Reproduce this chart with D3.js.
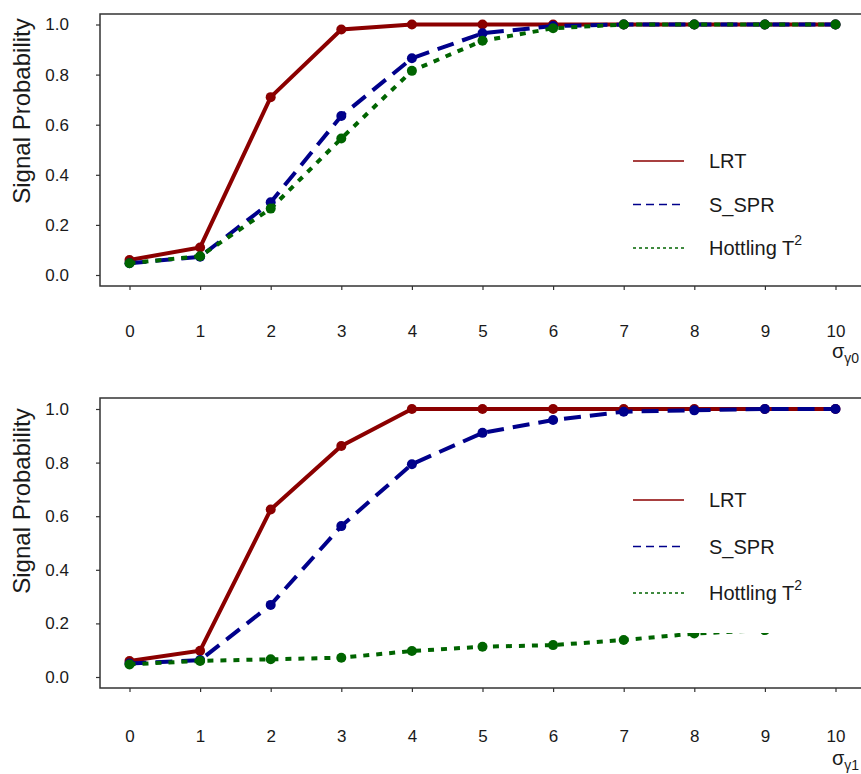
<!DOCTYPE html>
<html>
<head>
<meta charset="utf-8">
<script src="https://cdn.jsdelivr.net/npm/d3@7"></script>
<style>
    body { margin: 0; background: #fff; }
    svg { display: block; font-family: "Liberation Sans", Arial, sans-serif; }
    .tick-label { fill: #1a1a1a; font-size: 17px; }
    .legend-text { fill: #1a1a1a; font-size: 20px; }
</style>
</head>
<body>
<svg id="vis" width="861" height="774"></svg>
<script>
// sigma values on the x axis
const sigmaList = [0, 1, 2, 3, 4, 5, 6, 7, 8, 9, 10];
const yTicks = [0.0, 0.2, 0.4, 0.6, 0.8, 1.0];

// top panel (sigma gamma0)
const lrtTop   = [0.06, 0.11, 0.71, 0.98, 1.0, 1.0, 1.0, 1.0, 1.0, 1.0, 1.0];
const ssprTop  = [0.047, 0.073, 0.29, 0.635, 0.865, 0.965, 0.994, 1.0, 1.0, 1.0, 1.0];
const hotTop   = [0.047, 0.075, 0.265, 0.545, 0.815, 0.935, 0.985, 1.0, 1.0, 1.0, 1.0];

// bottom panel (sigma gamma1)
const lrtBottom  = [0.06, 0.098, 0.625, 0.862, 1.0, 1.0, 1.0, 1.0, 1.0, 1.0, 1.0];
const ssprBottom = [0.05, 0.063, 0.269, 0.563, 0.794, 0.911, 0.959, 0.99, 0.995, 1.0, 1.0];
const hotBottom  = [0.047, 0.06, 0.066, 0.072, 0.097, 0.113, 0.119, 0.138, 0.162, 0.175, 0.185];

const seriesNames = ["LRT", "S_SPR", "Hottling T"];
const seriesColors = ["#8b0000", "#00008b", "#006400"];
const seriesDash = [null, "17,9", "6,7"];
const legendDash = [null, "8,5", "3,3"];

var svg = d3.select("svg#vis");

function translate(x, y) {
    return "translate(" + String(x) + "," + String(y) + ")";
}

var x = d3.scaleLinear().domain([0, 10]).range([129.5, 835.5]);

function drawPanel(p) {
    let y = d3.scaleLinear().domain([0, 1]).range([p.y0, p.y1]);
    let g = svg.append("g");

    // plot box (right edge falls outside the picture)
    g.append("rect")
        .attr("x", 100)
        .attr("y", p.boxTop)
        .attr("width", 772)
        .attr("height", p.boxBottom - p.boxTop)
        .attr("fill", "none")
        .attr("stroke", "#333")
        .attr("stroke-width", 1.5);

    // y axis
    let yAxis = d3.axisLeft(y).tickValues(yTicks).tickFormat(d3.format(".1f")).tickSize(4).tickSizeOuter(0);
    let ya = g.append("g").attr("transform", translate(100, 0)).call(yAxis);
    ya.select(".domain").remove();
    ya.selectAll("line").attr("stroke", "#333").attr("stroke-width", 1.2);
    ya.selectAll("text").attr("class", "tick-label").attr("x", -31).attr("font-family", null).attr("font-size", null);

    // x axis
    let xAxis = d3.axisBottom(x).tickValues(sigmaList).tickFormat(d3.format("d")).tickSize(4).tickSizeOuter(0);
    let xa = g.append("g").attr("transform", translate(0, p.boxBottom)).call(xAxis);
    xa.select(".domain").remove();
    xa.selectAll("line").attr("stroke", "#333").attr("stroke-width", 1.2);
    xa.selectAll("text").attr("class", "tick-label").attr("y", p.labelOffset).attr("dy", "0.35em")
        .attr("font-family", null).attr("font-size", null);

    // axis titles
    g.append("text")
        .attr("transform", translate(30, p.ylabCenter) + " rotate(-90)")
        .attr("text-anchor", "middle")
        .style("font-size", "24px")
        .style("fill", "#1a1a1a")
        .text("Signal Probability");

    let xl = g.append("text")
        .attr("x", 832)
        .attr("y", p.xlabY)
        .style("font-size", "20px")
        .style("fill", "#1a1a1a")
        .text("σ");
    xl.append("tspan")
        .attr("dy", 5)
        .style("font-size", "14px")
        .text(p.sub);

    // series
    let line = d3.line()
        .defined(d => d != null)
        .x((d, i) => x(sigmaList[i]))
        .y(d => y(d));

    p.series.forEach(function(vals, k) {
        g.append("path")
            .datum(vals)
            .attr("d", line)
            .attr("fill", "none")
            .attr("stroke", seriesColors[k])
            .attr("stroke-width", 4)
            .attr("stroke-dasharray", seriesDash[k]);
        g.selectAll("circle.s" + k)
            .data(vals)
            .enter()
            .append("circle")
            .attr("class", "s" + k)
            .attr("cx", (d, i) => x(sigmaList[i]))
            .attr("cy", d => y(d))
            .attr("r", 5)
            .attr("fill", seriesColors[k]);
    });

    // legend with white background (it hides what lies under it)
    let legend = g.append("g").attr("transform", translate(0, p.legendY));
    legend.append("rect")
        .attr("x", 612)
        .attr("y", -26)
        .attr("width", 260)
        .attr("height", p.legendBoxH)
        .attr("fill", "#fff");

    seriesNames.forEach(function(name, k) {
        let ly = k * p.legendStep;
        legend.append("line")
            .attr("x1", 633).attr("x2", 684)
            .attr("y1", ly).attr("y2", ly)
            .attr("stroke", seriesColors[k])
            .attr("stroke-width", 1.6)
            .attr("stroke-dasharray", legendDash[k]);
        let t = legend.append("text")
            .attr("class", "legend-text")
            .attr("x", 709)
            .attr("y", ly + 7)
            .text(name);
        if (k == 2) {
            t.append("tspan")
                .attr("dy", -10)
                .style("font-size", "14px")
                .text("2");
        }
    });
}

drawPanel({
    y0: 275, y1: 24.5,
    boxTop: 14, boxBottom: 286,
    labelOffset: 45, xlabY: 358, sub: "γ0",
    ylabCenter: 111,
    legendY: 161, legendStep: 43.5, legendBoxH: 121,
    series: [lrtTop, ssprTop, hotTop]
});

drawPanel({
    y0: 677, y1: 409,
    boxTop: 398, boxBottom: 688,
    labelOffset: 48, xlabY: 765, sub: "γ1",
    ylabCenter: 501,
    legendY: 500, legendStep: 46.5, legendBoxH: 159,
    series: [lrtBottom, ssprBottom, hotBottom]
});
</script>
</body>
</html>
